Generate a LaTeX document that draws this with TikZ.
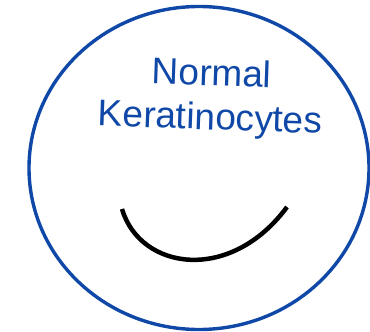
\documentclass[tikz,border=0pt]{standalone}
\usepackage{fontspec}
\setmainfont{Liberation Sans}
\definecolor{cellblue}{RGB}{16,72,168}
\begin{document}
\begin{tikzpicture}[x=1pt, y=-1pt]

  \useasboundingbox (0,0) rectangle (370,332);

  \draw[cellblue, line width=3.4pt] (199,168) ellipse (170 and 161.5);

  \node[text=cellblue, align=center, rotate=-2, inner sep=0pt,
        font=\fontsize{37}{44}\selectfont] (label) at (211,98)
    {Normal\\Keratinocytes};

  \coordinate (L) at (122,209);
  \coordinate (R) at (287,207);

  \draw[line width=4.5pt] (L) .. controls (140,270) and (230,284) .. (R);

\end{tikzpicture}
\end{document}
